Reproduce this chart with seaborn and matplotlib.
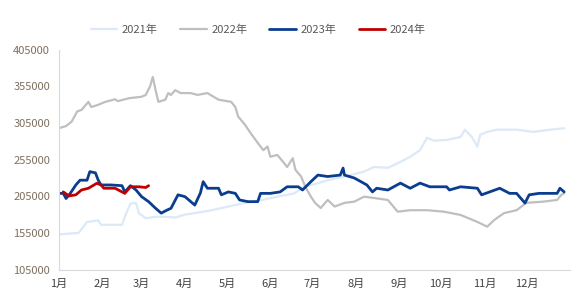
import numpy as np
import pandas as pd
import matplotlib.pyplot as plt
import seaborn as sns

# day of year -> value
day_2021 = [1, 8, 15, 21, 29, 31, 46, 48, 52, 56, 58, 63, 70, 77, 84, 91, 98, 110, 122, 134,
            146, 157, 169, 176, 186, 193, 205, 219, 226, 236, 243, 252, 259, 264, 269, 278,
            288, 291, 296, 300, 302, 307, 314, 328, 340, 352, 362]
val_2021 = [153000, 154000, 155000, 170000, 172000, 166000, 166000, 177000, 195000, 196000,
            182000, 175000, 177000, 177000, 176000, 180000, 182000, 186000, 191000, 196000,
            200000, 204500, 209000, 218000, 222800, 227000, 232000, 238700, 245000, 244000,
            250000, 259000, 268000, 285000, 281000, 282000, 286000, 296000, 286000, 273000,
            289000, 293000, 296000, 296000, 293000, 296000, 298000]

day_2022 = [1, 6, 10, 14, 17, 22, 24, 29, 34, 41, 43, 51, 60, 63, 66, 68, 70, 72, 77, 79,
            81, 84, 88, 95, 100, 107, 115, 124, 127, 129, 134, 138, 143, 147, 150, 152, 157,
            162, 164, 168, 170, 174, 177, 181, 184, 188, 193, 198, 205, 212, 219, 226, 236,
            243, 252, 264, 276, 288, 300, 307, 312, 319, 328, 335, 347, 357, 360, 362]
val_2022 = [298000, 301000, 307000, 321000, 323000, 334000, 327000, 330000, 334000, 337500,
            335000, 339000, 341000, 343500, 355000, 368000, 350000, 334000, 337000, 346000,
            343500, 350000, 346000, 346000, 343500, 346000, 337000, 334000, 327000, 314000,
            302500, 291000, 278000, 268000, 273000, 259000, 261500, 250000, 245000, 257000,
            241000, 232000, 218000, 204500, 196000, 189000, 200000, 191000, 196000, 197700,
            204500, 202700, 200000, 184000, 186000, 186000, 184000, 179500, 170000, 163500,
            172600, 182000, 186000, 196000, 197700, 200000, 207000, 209000]

day_2023 = [1, 4, 6, 9, 13, 16, 21, 23, 27, 29, 31, 38, 46, 48, 52, 56, 60, 65, 70, 74, 78,
            81, 86, 91, 98, 102, 104, 107, 115, 117, 122, 127, 130, 136, 143, 145, 152, 159,
            164, 172, 175, 181, 186, 193, 202, 204, 205, 212, 221, 225, 228, 236, 245, 252,
            259, 266, 278, 280, 288, 300, 303, 316, 323, 328, 334, 337, 344, 357, 359, 362]
val_2023 = [209000, 209000, 202000, 209000, 220500, 227000, 227000, 238700, 237000, 227000,
            220500, 220500, 219500, 211000, 219500, 213600, 204500, 197700, 188600, 182000,
            186000, 188600, 207000, 204500, 193000, 209400, 225000, 216000, 216000, 207000,
            211000, 209000, 200000, 197700, 197700, 209000, 209000, 211000, 218000, 218000,
            213600, 225000, 234000, 232000, 234000, 243500, 234000, 230000, 220500, 211000,
            216000, 213600, 223000, 216000, 223000, 218000, 218000, 213600, 218000, 216000,
            207000, 216000, 209000, 209000, 195800, 207000, 209000, 209000, 216000, 211000]

day_2024 = [4, 8, 13, 17, 22, 28, 31, 33, 41, 46, 48, 52, 58, 63, 65]
val_2024 = [211000, 205500, 207000, 213600, 216000, 222800, 220500, 216000, 216000, 211000,
            209000, 218000, 218000, 217000, 219500]

years = ['2021年', '2022年', '2023年', '2024年']
colors = ['#dce9f7', '#bfbfbf', '#0b3d8f', '#c00000']
widths = [1.6, 1.6, 2.0, 2.0]

month_labels = ['1月', '2月', '3月', '4月', '5月', '6月', '7月', '8月', '9月', '10月', '11月', '12月']
month_start = [1, 32, 60, 91, 121, 152, 182, 213, 244, 274, 305, 335]

df = pd.concat([
    pd.DataFrame({'day': day_2021, 'value': val_2021, 'year': years[0]}),
    pd.DataFrame({'day': day_2022, 'value': val_2022, 'year': years[1]}),
    pd.DataFrame({'day': day_2023, 'value': val_2023, 'year': years[2]}),
    pd.DataFrame({'day': day_2024, 'value': val_2024, 'year': years[3]}),
])

sns.set_style('white')
plt.rcParams['font.family'] = ['Noto Sans CJK SC', 'DejaVu Sans']

fig = plt.figure(figsize=(5.79, 3.08), dpi=100)
ax = fig.add_axes([0.102, 0.125, 0.882, 0.713])

for y, c, w in zip(years, colors, widths):
    sns.lineplot(data=df[df.year == y], x='day', y='value', color=c, linewidth=w, ax=ax, label=y)

ax.set_xlim(1, 366)
ax.set_ylim(105000, 405000)
ax.set_yticks(np.arange(105000, 405001, 50000))
ax.set_xticks(month_start)
ax.set_xticklabels(month_labels)
ax.set_xlabel('')
ax.set_ylabel('')
ax.tick_params(axis='both', labelsize=8, length=3, width=0.8, colors='#d9d9d9')
for s in ['top', 'right']:
    ax.spines[s].set_visible(False)
for s in ['left', 'bottom']:
    ax.spines[s].set_color('#d9d9d9')
    ax.spines[s].set_linewidth(0.8)
for lab in ax.get_xticklabels():
    lab.set_color('#404040')
for lab in ax.get_yticklabels():
    lab.set_color('#7f6f5f')

leg = ax.legend(loc='center', bbox_to_anchor=(0.39, 1.09), ncol=4, frameon=False,
                fontsize=8, handlelength=2.4, columnspacing=2.0, handletextpad=0.4)
for t in leg.get_texts():
    t.set_color('#595959')

fig.savefig('out.png', dpi=100)
